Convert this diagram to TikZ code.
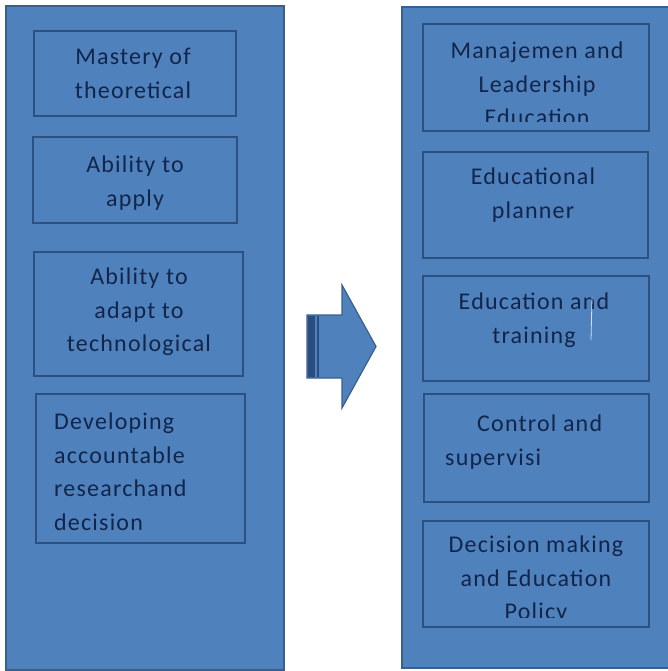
\documentclass[tikz,border=0pt]{standalone}
\usepackage{fontspec}
\setmainfont{Carlito}[LetterSpace=5]
\definecolor{panelfill}{HTML}{4F81BD}
\definecolor{panelline}{HTML}{3A5F8C}
\definecolor{boxline}{HTML}{2C5080}
\definecolor{textcol}{HTML}{12254A}
\definecolor{stripe}{HTML}{2A4C7E}
\begin{document}
\begin{tikzpicture}[x=1pt,y=-1pt,
  panel/.style={draw=panelline, line width=1.5pt, fill=panelfill, inner sep=0pt, outer sep=0pt, anchor=north west},
  box/.style={draw=boxline, line width=1.3pt, fill=panelfill, inner sep=0pt, outer sep=0pt, anchor=north west},
  txt/.style={text=textcol, font=\fontsize{24}{33.5}\selectfont, inner sep=0pt, align=center, anchor=north}]
\useasboundingbox[fill=white] (0,0) rectangle (668,671);
% panels
\node[panel, minimum width=278pt, minimum height=664pt] (left) at (6,6) {};
\node[panel, minimum width=267pt, minimum height=661pt] (right) at (402,7) {};
% left boxes
\node[box, minimum width=202pt, minimum height=85pt] (l1) at (34,31) {};
\node[box, minimum width=204pt, minimum height=86pt] (l2) at (33,137) {};
\node[box, minimum width=209pt, minimum height=124pt] (l3) at (34,252) {};
\node[box, minimum width=209pt, minimum height=149pt] (l4) at (36,394) {};
\node[txt] (l1t) at (133,48) {Mastery of\\theoretical};
\node[txt] (l2t) at (135,156) {Ability to\\apply};
\node[txt] (l3t) at (139,268) {Ability to\\adapt to\\technological};
\node[txt, align=left, anchor=north west] (l4t) at (54,413) {Developing\\accountable\\researchand\\decision};
% right boxes
\node[box, minimum width=226pt, minimum height=107pt] (r1) at (423,24) {};
\node[box, minimum width=225pt, minimum height=106pt] (r2) at (423,152) {};
\node[box, minimum width=226pt, minimum height=105pt] (r3) at (423,276) {};
\node[box, minimum width=225pt, minimum height=108pt] (r4) at (424,394) {};
\node[box, minimum width=226pt, minimum height=106pt] (r5) at (423,521) {};
\begin{scope}
  \clip ([xshift=1pt,yshift=-1pt]r1.north west) rectangle ([xshift=-1pt,yshift=9pt]r1.south east);
  \node[txt] (r1t) at (537,42) {Manajemen and\\Leadership\\Education};
\end{scope}
\node[txt] (r2t) at (533,168) {Educational\\planner};
\node[txt] (r3t) at (534,293) {Education and\\training};
\node[txt, align=left, anchor=north west] (r4t) at (445,415) {\hspace*{32pt}Control and\\supervisi};
\begin{scope}
  \clip ([xshift=1pt,yshift=-1pt]r5.north west) rectangle ([xshift=-1pt,yshift=10pt]r5.south east);
  \node[txt] (r5t) at (536,536) {Decision making\\and Education\\Policy};
\end{scope}
% small light mark in r3
\coordinate (m1) at (592,297);
\coordinate (m2) at (591,340);
\draw[line width=0.8pt, color=white!75!panelfill] (m1) -- (m2);
% arrow
\draw[draw=panelline, line width=1.2pt, fill=panelfill, line join=miter]
  (307,315) -- (342,315) -- (342,285) -- (376,346.5) -- (342,408) -- (342,378) -- (307,378) -- cycle;
\fill[stripe] (307.6,315.6) rectangle (315,377.4);
\fill[stripe] (316.5,315.6) rectangle (318.5,377.4);
\end{tikzpicture}
\end{document}
